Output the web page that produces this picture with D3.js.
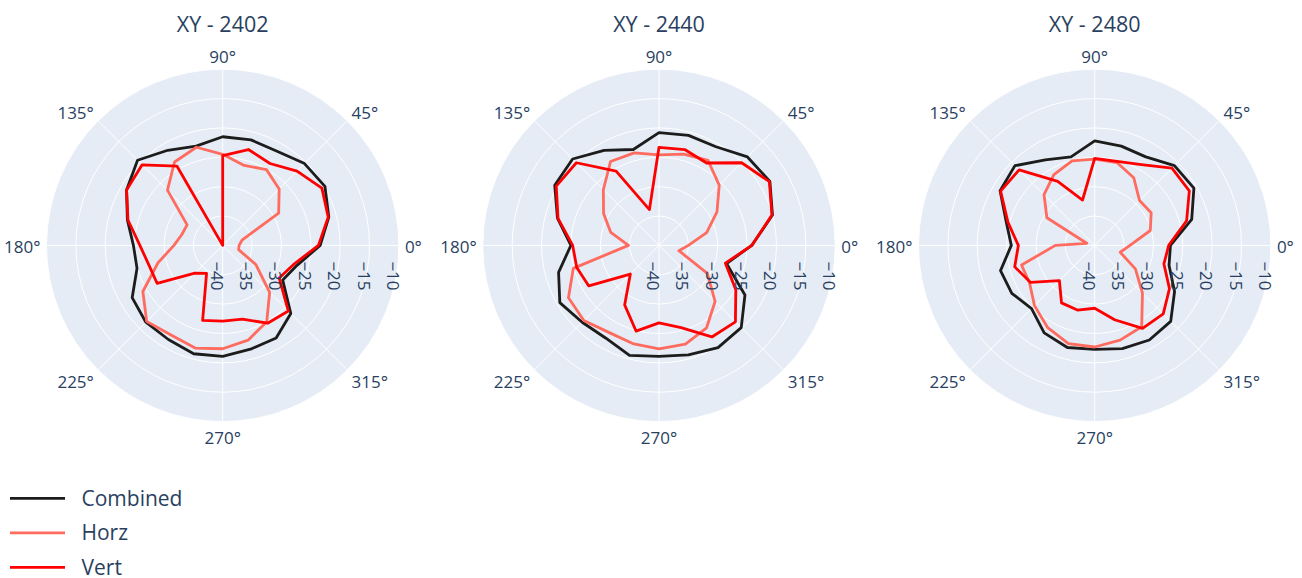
<!DOCTYPE html>
<html><head><meta charset="utf-8">
<script src="https://cdn.jsdelivr.net/npm/d3@7"></script>
<style>
html,body{margin:0;padding:0;background:#fff;}
svg{display:block;font-family:"Open Sans",verdana,arial,sans-serif;}
</style></head>
<body><svg id="chart" width="1302" height="578"></svg>
<script>
// ---- data ----
const thetas = [0,15,30,45,60,75,90,105,120,135,150,165,180,195,210,225,240,255,270,285,300,315,330,345];
const plotTitles = ["XY - 2402","XY - 2440","XY - 2480"];
const seriesNames = ["Combined","Horz","Vert"];
const angularTicks = [0,45,90,135,180,225,270,315];
const radialTicks = [-40,-35,-30,-25,-20,-15,-10];
const radialRange = [-40,-10];

const combined2402 = [-23.4,-21.3,-19.9,-20.3,-21.5,-21.4,-21.5,-22.5,-21.3,-19.5,-21.1,-23.2,-24.8,-24.9,-22.2,-21.5,-21.5,-20.9,-21.1,-21.7,-21.8,-23.6,-28.2,-26.9];
const horz2402     = [-37.2,-36.6,-29.0,-26.4,-25.1,-25.9,-24.5,-22.7,-23.6,-26.7,-33.0,-32.8,-31.7,-28.6,-24.3,-21.7,-22.4,-21.9,-22.4,-23.3,-25.0,-28.7,-33.5,-37.2];
const vert2402     = [-23.7,-21.4,-20.5,-22.1,-23.9,-23.1,-24.7,-40.0,-24.4,-20.6,-21.1,-23.3,-25.9,-27.0,-27.1,-33.3,-34.5,-26.8,-27.1,-27.0,-24.7,-24.2,-28.9,-27.5];

const combined2440 = [-24.2,-20.0,-18.2,-18.7,-20.6,-20.6,-20.8,-23.1,-21.3,-19.2,-19.5,-22.1,-25.0,-22.3,-20.5,-21.5,-21.8,-20.6,-21.1,-20.7,-19.9,-20.2,-23.1,-28.1];
const horz2440     = [-35.0,-31.6,-28.6,-25.5,-23.3,-23.9,-24.6,-23.7,-23.5,-26.6,-29.1,-31.5,-34.8,-24.9,-22.2,-21.9,-22.9,-22.7,-22.4,-22.6,-23.8,-26.5,-30.5,-36.5];
const vert2440     = [-24.2,-20.1,-18.3,-20.1,-23.8,-23.1,-23.3,-33.7,-25.4,-20.1,-19.8,-22.2,-25.3,-25.5,-26.2,-33.1,-28.3,-24.9,-26.8,-25.5,-22.0,-21.6,-24.9,-28.3];

const combined2480 = [-27.1,-22.9,-20.5,-20.8,-22.6,-22.5,-22.2,-24.4,-23.2,-20.8,-21.4,-24.4,-25.8,-23.4,-23.7,-24.8,-22.8,-22.0,-22.3,-21.8,-21.4,-21.7,-24.3,-26.9];
const horz2480     = [-34.0,-30.2,-28.9,-29.2,-26.7,-25.4,-25.3,-25.1,-26.1,-27.8,-30.6,-38.6,-33.3,-27.1,-27.2,-25.5,-23.9,-22.7,-22.7,-23.3,-24.0,-28.5,-32.0,-35.5];
const vert2480     = [-27.4,-23.8,-21.4,-21.4,-24.1,-25.2,-25.2,-32.0,-27.4,-21.8,-21.5,-24.7,-27.0,-25.9,-27.4,-31.5,-28.7,-28.6,-29.3,-26.9,-23.7,-23.5,-25.3,-27.8];

const plotData = [
  [combined2402, horz2402, vert2402],
  [combined2440, horz2440, vert2440],
  [combined2480, horz2480, vert2480]
];
const colors = ["#1c1c1c","#ff6b5e","#ff0000"];

// ---- layout ----
const svg = d3.select("#chart");
svg.append("rect").attr("width",1302).attr("height",578).attr("fill","#fff");
const R = 176.2, cy = 245.4;
const cxs = [222.7, 659, 1094.7];
const textColor = "#2a3f5f";
const rScale = d3.scaleLinear().domain(radialRange).range([0,R]).clamp(true);
const fmt = d3.format("d");
const rad = d => d*Math.PI/180;

plotTitles.forEach((title,i) => {
  const g = svg.append("g").attr("transform",`translate(${cxs[i]},${cy})`);
  g.append("circle").attr("r",R).attr("fill","#E5ECF6");
  // radial grid circles
  g.selectAll("circle.grid").data(radialTicks.filter(t => t > radialRange[0]))
    .join("circle").attr("class","grid").attr("r",d=>rScale(d))
    .attr("fill","none").attr("stroke","#fff").attr("stroke-width",1);
  // angular spokes
  g.selectAll("line.spoke").data(angularTicks).join("line")
    .attr("x1",0).attr("y1",0)
    .attr("x2",d=>R*Math.cos(rad(d))).attr("y2",d=>-R*Math.sin(rad(d)))
    .attr("stroke","#fff").attr("stroke-width",1);
  // angular labels
  g.selectAll("text.ang").data(angularTicks).join("text")
    .attr("class","ang")
    .attr("x",d=>(R+6)*Math.cos(rad(d)))
    .attr("y",d=>-190.6*Math.sin(rad(d)) + 1.9 + 6)
    .attr("text-anchor",d=>{const c=Math.cos(rad(d)); return c>0.1?"start":(c<-0.1?"end":"middle");})
    .attr("font-size",17).attr("fill",textColor)
    .text(d=>d+"°");
  // series
  const line = d3.lineRadial()
    .angle(d => rad(90 - d.theta))
    .radius(d => rScale(d.v))
    .curve(d3.curveLinearClosed);
  plotData[i].forEach((vals,s) => {
    const pts = thetas.map((t,k)=>({theta:t, v:vals[k]}));
    g.append("path").attr("d",line(pts)).attr("fill","none")
      .attr("stroke",colors[s]).attr("stroke-width",2.8)
      .attr("stroke-linejoin","round");
  });
  // radial tick labels (rotated)
  g.selectAll("text.rad").data(radialTicks).join("text")
    .attr("class","rad")
    .attr("transform",d=>`translate(${rScale(d)-12},${16}) rotate(90)`)
    .attr("font-size",17).attr("fill",textColor)
    .text(d=>fmt(d));
  // title
  svg.append("text").attr("x",cxs[i]).attr("y",31.5)
    .attr("text-anchor","middle").attr("font-size",21.5).attr("fill",textColor)
    .text(title);
});

// legend
const lg = svg.append("g");
seriesNames.forEach((name,s) => {
  const y = 498.3 + s*34.5;
  lg.append("line").attr("x1",10).attr("x2",65).attr("y1",y).attr("y2",y)
    .attr("stroke",colors[s]).attr("stroke-width",2.8);
  lg.append("text").attr("x",81.5).attr("y",y+7.5).attr("font-size",21)
    .attr("fill",textColor).text(name);
});
</script></body></html>
